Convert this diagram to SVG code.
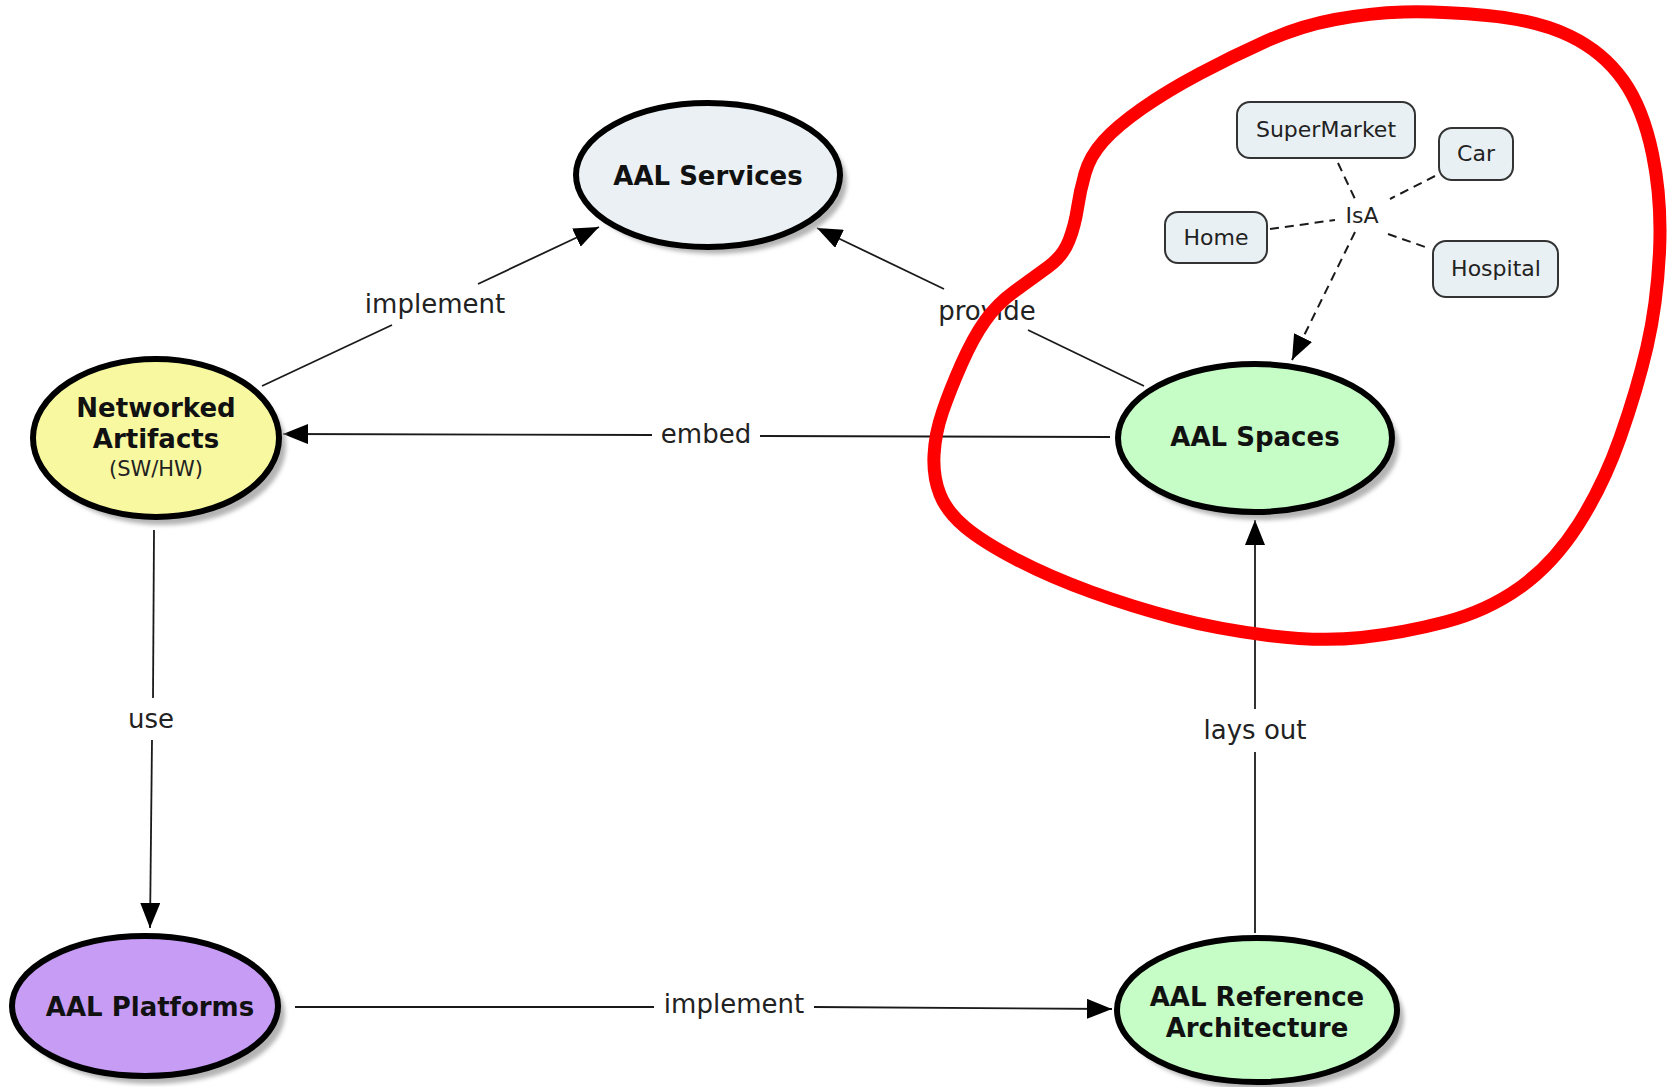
<svg xmlns="http://www.w3.org/2000/svg" width="1672" height="1087" viewBox="0 0 1672 1087">
<defs>
<style>
.concept{stroke:#000;stroke-width:6}
.shadow{fill:#b4b4b4;filter:url(#blur)}
.title{font-family:"DejaVu Sans","Liberation Sans",sans-serif;font-weight:bold;font-size:26px;fill:#111;text-anchor:middle}
.sub{font-family:"DejaVu Sans","Liberation Sans",sans-serif;font-size:21px;fill:#222;text-anchor:middle}
.box{fill:#e9f0f3;stroke:#333;stroke-width:2}
.boxtext{font-family:"DejaVu Sans","Liberation Sans",sans-serif;font-size:22px;fill:#222;text-anchor:middle}
.lbl{font-family:"DejaVu Sans","Liberation Sans",sans-serif;font-size:26px;fill:#222;text-anchor:middle}
.edge{stroke:#1a1a1a;stroke-width:1.8;fill:none}
.dash{stroke:#1a1a1a;stroke-width:2;fill:none;stroke-dasharray:9,6}
</style>
<filter id="blur" x="-10%" y="-10%" width="120%" height="120%"><feGaussianBlur stdDeviation="2"/></filter>
<marker id="arr" viewBox="0 0 25 20" refX="25" refY="10" markerWidth="25" markerHeight="20" markerUnits="userSpaceOnUse" orient="auto">
<path d="M0,0 L25,10 L0,20 z" fill="#000"/>
</marker>
</defs>
<rect width="1672" height="1087" fill="#fff"/>

<g id="connectors">
<line class="edge" x1="262" y1="386" x2="392" y2="325"/>
<line class="edge" x1="478" y1="284" x2="599" y2="227" marker-end="url(#arr)"/>
<text class="lbl" x="435" y="313">implement</text>

<line class="edge" x1="1144" y1="386" x2="1028" y2="330"/>
<line class="edge" x1="944" y1="289" x2="817" y2="228" marker-end="url(#arr)"/>
<text class="lbl" x="987" y="320">provide</text>

<line class="edge" x1="1110" y1="437" x2="760" y2="436"/>
<line class="edge" x1="652" y1="435" x2="283" y2="434" marker-end="url(#arr)"/>
<text class="lbl" x="706" y="443">embed</text>

<line class="edge" x1="154" y1="530" x2="153" y2="698"/>
<line class="edge" x1="152" y1="740" x2="150" y2="928" marker-end="url(#arr)"/>
<text class="lbl" x="151" y="728">use</text>

<line class="edge" x1="295" y1="1007" x2="654" y2="1007"/>
<line class="edge" x1="814" y1="1007" x2="1112" y2="1009" marker-end="url(#arr)"/>
<text class="lbl" x="734" y="1013">implement</text>

<line class="edge" x1="1255" y1="933" x2="1255" y2="752"/>
<line class="edge" x1="1255" y1="709" x2="1255" y2="520" marker-end="url(#arr)"/>
<text class="lbl" x="1255" y="739">lays out</text>

<line class="dash" x1="1338" y1="163" x2="1355" y2="199"/>
<line class="dash" x1="1435" y1="176" x2="1390" y2="199"/>
<line class="dash" x1="1270" y1="229" x2="1335" y2="220"/>
<line class="dash" x1="1388" y1="234" x2="1428" y2="248"/>
<line class="dash" x1="1355" y1="232" x2="1292" y2="360" marker-end="url(#arr)"/>
<text class="boxtext" x="1362" y="223">IsA</text>
</g>

<g id="aal-services">
<ellipse class="shadow" cx="715" cy="182" rx="132" ry="72"/>
<ellipse class="concept" cx="708" cy="175" rx="132" ry="72" fill="#eaf0f3"/>
<text class="title" x="708" y="185">AAL Services</text>
</g>

<g id="networked-artifacts">
<ellipse class="shadow" cx="163" cy="446" rx="123" ry="79"/>
<ellipse class="concept" cx="156" cy="438" rx="123" ry="79" fill="#f8f8a0"/>
<text class="title" x="156" y="417">Networked</text>
<text class="title" x="156" y="448">Artifacts</text>
<text class="sub" x="156" y="476">(SW/HW)</text>
</g>

<g id="aal-spaces">
<ellipse class="shadow" cx="1262" cy="446" rx="137" ry="74"/>
<ellipse class="concept" cx="1255" cy="438" rx="137" ry="74" fill="#c6fcc6"/>
<text class="title" x="1255" y="446">AAL Spaces</text>
</g>

<g id="aal-platforms">
<ellipse class="shadow" cx="152" cy="1014" rx="133" ry="70"/>
<ellipse class="concept" cx="145" cy="1006" rx="133" ry="70" fill="#c69cf5"/>
<text class="title" x="150" y="1016">AAL Platforms</text>
</g>

<g id="aal-reference-architecture">
<ellipse class="shadow" cx="1264" cy="1018" rx="140" ry="72"/>
<ellipse class="concept" cx="1257" cy="1010" rx="140" ry="72" fill="#c6fcc6"/>
<text class="title" x="1257" y="1006">AAL Reference</text>
<text class="title" x="1257" y="1037">Architecture</text>
</g>

<g id="supermarket">
<rect class="box" x="1237" y="102" width="178" height="56" rx="13"/>
<text class="boxtext" x="1326" y="137">SuperMarket</text>
</g>
<g id="car">
<rect class="box" x="1439" y="128" width="74" height="52" rx="13"/>
<text class="boxtext" x="1476" y="161">Car</text>
</g>
<g id="home">
<rect class="box" x="1165" y="212" width="102" height="51" rx="13"/>
<text class="boxtext" x="1216" y="245">Home</text>
</g>
<g id="hospital">
<rect class="box" x="1433" y="241" width="125" height="56" rx="13"/>
<text class="boxtext" x="1496" y="276">Hospital</text>
</g>

<path id="highlight" fill="none" stroke="#ff0000" stroke-width="13" stroke-linejoin="round"
d="M1103.5,141 Q1117,126 1142,108.5 Q1167,91 1200,73.5 Q1233,56 1266.5,41 Q1300,26 1335,19.5 Q1370,13 1403.5,12 Q1437,11 1487,15.5 Q1537,20 1570,36 Q1603,52 1623,80 Q1643,108 1652.5,154 Q1662,200 1659.5,252 Q1657,304 1647,347 Q1637,390 1620,438 Q1603,486 1578,525 Q1553,564 1520,587.5 Q1487,611 1445,622 Q1403,633 1361.5,637.5 Q1320,642 1268.5,635.5 Q1217,629 1175,618 Q1133,607 1091.5,592 Q1050,577 1016.5,559.5 Q983,542 965,527 Q947,512 940,494.5 Q933,477 934,455.5 Q935,434 942.5,412 Q950,390 961.5,364 Q973,338 985,321 Q997,304 1015,291 Q1033,278 1048,267 Q1063,256 1069,240.5 Q1075,225 1077.5,208 Q1080,191 1085,173.5 Q1090,156 1103.5,141 Z"/>
</svg>
